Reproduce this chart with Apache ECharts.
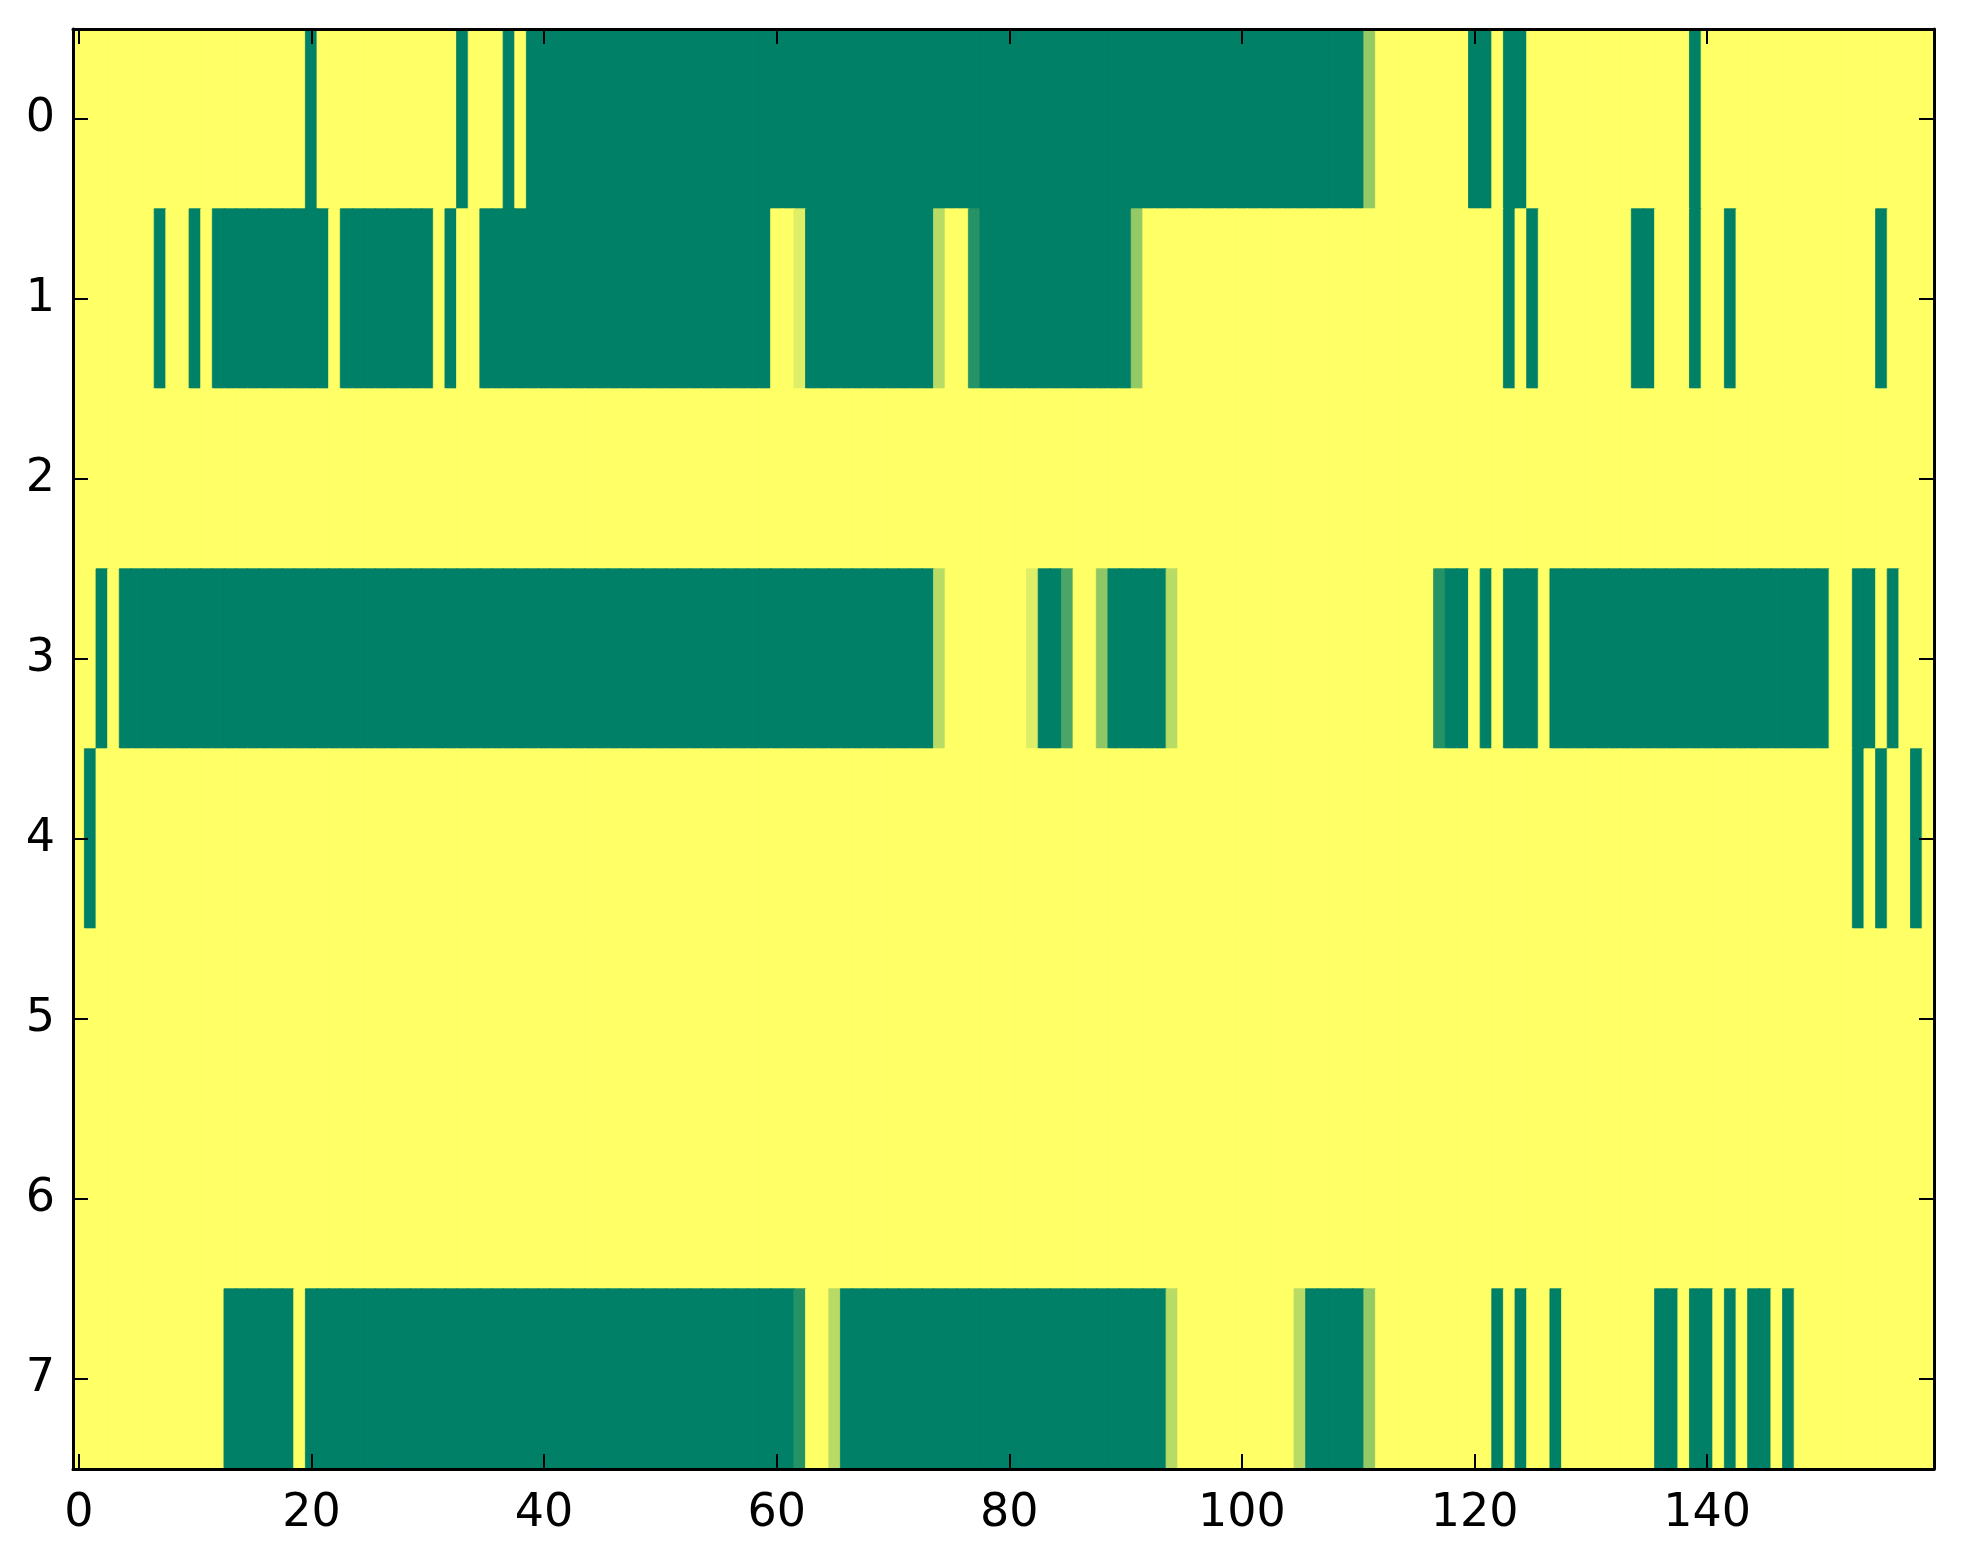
<!DOCTYPE html>
<html>
<head>
<meta charset="utf-8">
<script src="https://cdn.jsdelivr.net/npm/echarts@6/dist/echarts.min.js"></script>
<style>
    html, body {margin: 0; padding: 0; background: #fff;}
    #chart {width: 1963px; height: 1564px;}
</style>
</head>
<body>
<div id="chart"></div>
<script>
// 8 rows x 160 columns, values in [0, 1]; every cell is 1 (yellow) unless a run below says otherwise
const nCols = 160;
const rowLabels = ['0', '1', '2', '3', '4', '5', '6', '7'];
const xTickStep = 20;
const summerColors = ['#008066', '#ffff66'];

// runs: [firstCol, lastCol, value]
const row0Runs = [[20, 20, 0], [33, 33, 0], [37, 37, 0], [39, 110, 0], [111, 111, 0.58],
    [120, 121, 0], [123, 124, 0], [139, 139, 0]];
const row1Runs = [[7, 7, 0], [10, 10, 0], [12, 21, 0], [23, 30, 0], [32, 32, 0], [35, 59, 0],
    [62, 62, 0.87], [63, 73, 0], [74, 74, 0.72], [77, 77, 0.15], [78, 90, 0], [91, 91, 0.58],
    [123, 123, 0], [125, 125, 0], [134, 135, 0], [139, 139, 0], [142, 142, 0], [155, 155, 0]];
const row2Runs = [];
const row3Runs = [[2, 2, 0], [4, 73, 0], [74, 74, 0.72], [82, 82, 0.87], [83, 84, 0],
    [85, 85, 0.29], [88, 88, 0.56], [89, 93, 0], [94, 94, 0.72], [117, 117, 0.15],
    [118, 119, 0], [121, 121, 0], [123, 125, 0], [127, 150, 0], [153, 154, 0], [156, 156, 0]];
const row4Runs = [[1, 1, 0], [153, 153, 0], [155, 155, 0], [158, 158, 0]];
const row5Runs = [];
const row6Runs = [];
const row7Runs = [[13, 18, 0], [20, 61, 0], [62, 62, 0.15], [65, 65, 0.72], [66, 93, 0],
    [94, 94, 0.72], [105, 105, 0.72], [106, 110, 0], [111, 111, 0.58], [122, 122, 0],
    [124, 124, 0], [127, 127, 0], [136, 137, 0], [139, 140, 0], [142, 142, 0],
    [144, 145, 0], [147, 147, 0]];

const allRuns = [row0Runs, row1Runs, row2Runs, row3Runs, row4Runs, row5Runs, row6Runs, row7Runs];

// expand runs into heatmap cells; colour each cell itself (border same colour hides the seams)
function buildCells(runsByRow) {
    let cells = [];
    for (let r = 0; r < runsByRow.length; r++) {
        let row = new Array(nCols).fill(1);
        for (let run of runsByRow[r]) {
            for (let c = run[0]; c <= run[1]; c++) {
                row[c] = run[2];
            }
        }
        for (let c = 0; c < nCols; c++) {
            let col = echarts.color.lerp(row[c], summerColors);
            cells.push({
                value: [c, r, row[c]],
                itemStyle: {color: col, borderColor: col, borderWidth: 0.8}
            });
        }
    }
    return cells;
}

const xCategories = Array.from({length: nCols}, (_, i) => String(i));
const labelFont = {color: '#000', fontFamily: 'DejaVu Sans', fontSize: 46};

let myChart = echarts.init(document.getElementById('chart'), null, {renderer: 'canvas'});

function xAxisDef(pos, withLabels) {
    return {
        type: 'category',
        position: pos,
        data: xCategories,
        z: 10,
        axisLine: {show: true, onZero: false, lineStyle: {color: '#000', width: 3}},
        axisTick: {
            show: true, inside: true, length: 15, alignWithLabel: true,
            interval: (i) => i % xTickStep === 0,
            lineStyle: {color: '#000', width: 2}
        },
        axisLabel: Object.assign({
            show: withLabels, margin: 22,
            interval: (i) => i % xTickStep === 0
        }, labelFont),
        splitLine: {show: false}
    };
}

function yAxisDef(pos, withLabels) {
    return {
        type: 'category',
        position: pos,
        data: rowLabels,
        inverse: true,
        z: 10,
        axisLine: {show: true, onZero: false, lineStyle: {color: '#000', width: 3}},
        axisTick: {
            show: true, inside: true, length: 15, alignWithLabel: true,
            lineStyle: {color: '#000', width: 2}
        },
        axisLabel: Object.assign({show: withLabels, margin: 18}, labelFont),
        splitLine: {show: false}
    };
}

let option = {
    animation: false,
    backgroundColor: '#fff',
    grid: {left: 73, top: 29, right: 29, bottom: 95, containLabel: false},
    xAxis: [xAxisDef('bottom', true), xAxisDef('top', false)],
    yAxis: [yAxisDef('left', true), yAxisDef('right', false)],
    series: [
        {
            type: 'heatmap',
            data: buildCells(allRuns),
            emphasis: {disabled: true}
        }
    ]
};
myChart.setOption(option);
</script>
</body>
</html>
